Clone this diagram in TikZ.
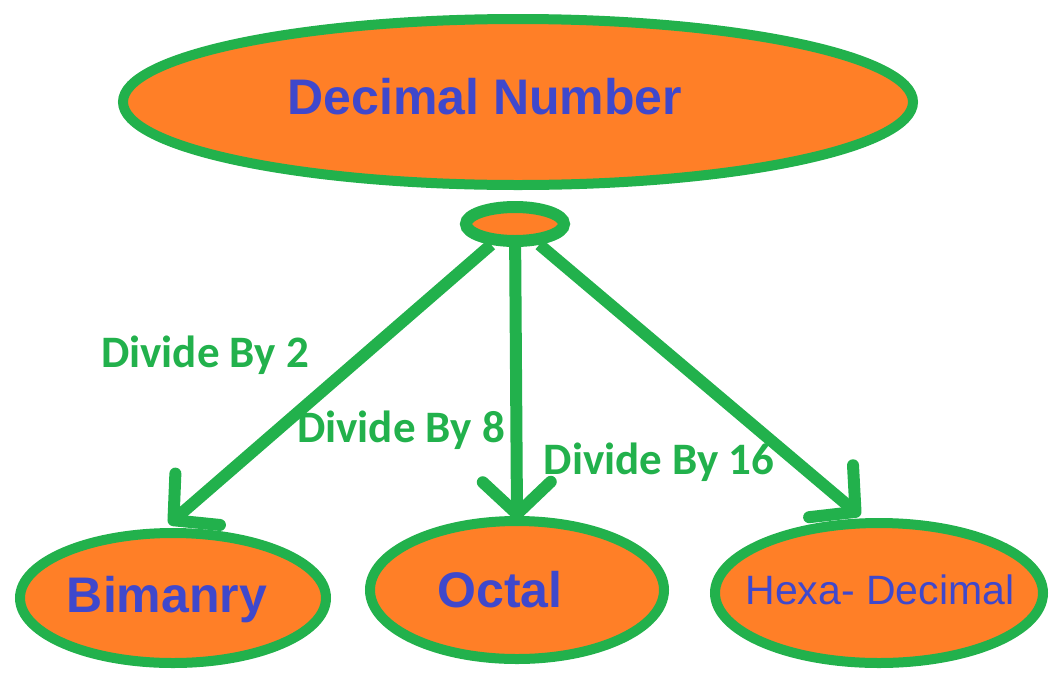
\documentclass[tikz,border=0pt]{standalone}
\usepackage{fontspec}
\setmainfont{Liberation Sans}
\newfontfamily\labelfont{Carlito}
\usetikzlibrary{shapes.geometric,arrows.meta}

\definecolor{paintgreen}{RGB}{34,177,76}
\definecolor{paintorange}{RGB}{255,127,39}
\definecolor{paintblue}{RGB}{63,72,204}

\tikzset{
  blob/.style={ellipse,draw=paintgreen,fill=paintorange,line width=10pt,inner sep=0pt},
  blobtext/.style={text=paintblue,font=\bfseries\fontsize{50}{50}\selectfont},
  link/.style={draw=paintgreen,line width=12pt,
    -{Straight Barb[length=32pt,width=68pt,round]}},
  steplabel/.style={text=paintgreen,font=\labelfont\bfseries\fontsize{45}{45}\selectfont}
}

\begin{document}
\begin{tikzpicture}[x=1pt,y=-1pt]

\useasboundingbox (0,0) rectangle (1050,673);

% top and hub
\node[blob,minimum width=790pt,minimum height=166pt] (dec) at (518,102) {};
\node[blobtext] (decText) at (485,97) {Decimal Number};
\node[blob,line width=12pt,minimum width=98pt,minimum height=34pt] (hub) at (515,224) {};

% the three results
\node[blob,minimum width=306pt,minimum height=130pt] (bin) at (173,598) {};
\node[blobtext] (binText) at (167,600) {Bimanry};
\node[blob,minimum width=294pt,minimum height=138pt] (oct) at (517,590) {};
\node[blobtext] (octText) at (500,590) {Octal};
\node[blob,minimum width=328pt,minimum height=140pt] (hex) at (879,593) {};
\node[text=paintblue,font=\fontsize{41}{41}\selectfont] (hexText) at (880,590) {Hexa- Decimal};

\draw[link,shorten >=6pt] (hub) -- (bin.97);
\draw[link,shorten >=-4pt] (hub) -- (oct.north);
\draw[link,shorten >=4pt] (hub) -- (hex.102);

\node[steplabel] (by2) at (205,355) {Divide By 2};
\node[steplabel] (by8) at (401,430) {Divide By 8};
\node[steplabel] (by16) at (659,462) {Divide By 16};

\end{tikzpicture}
\end{document}
